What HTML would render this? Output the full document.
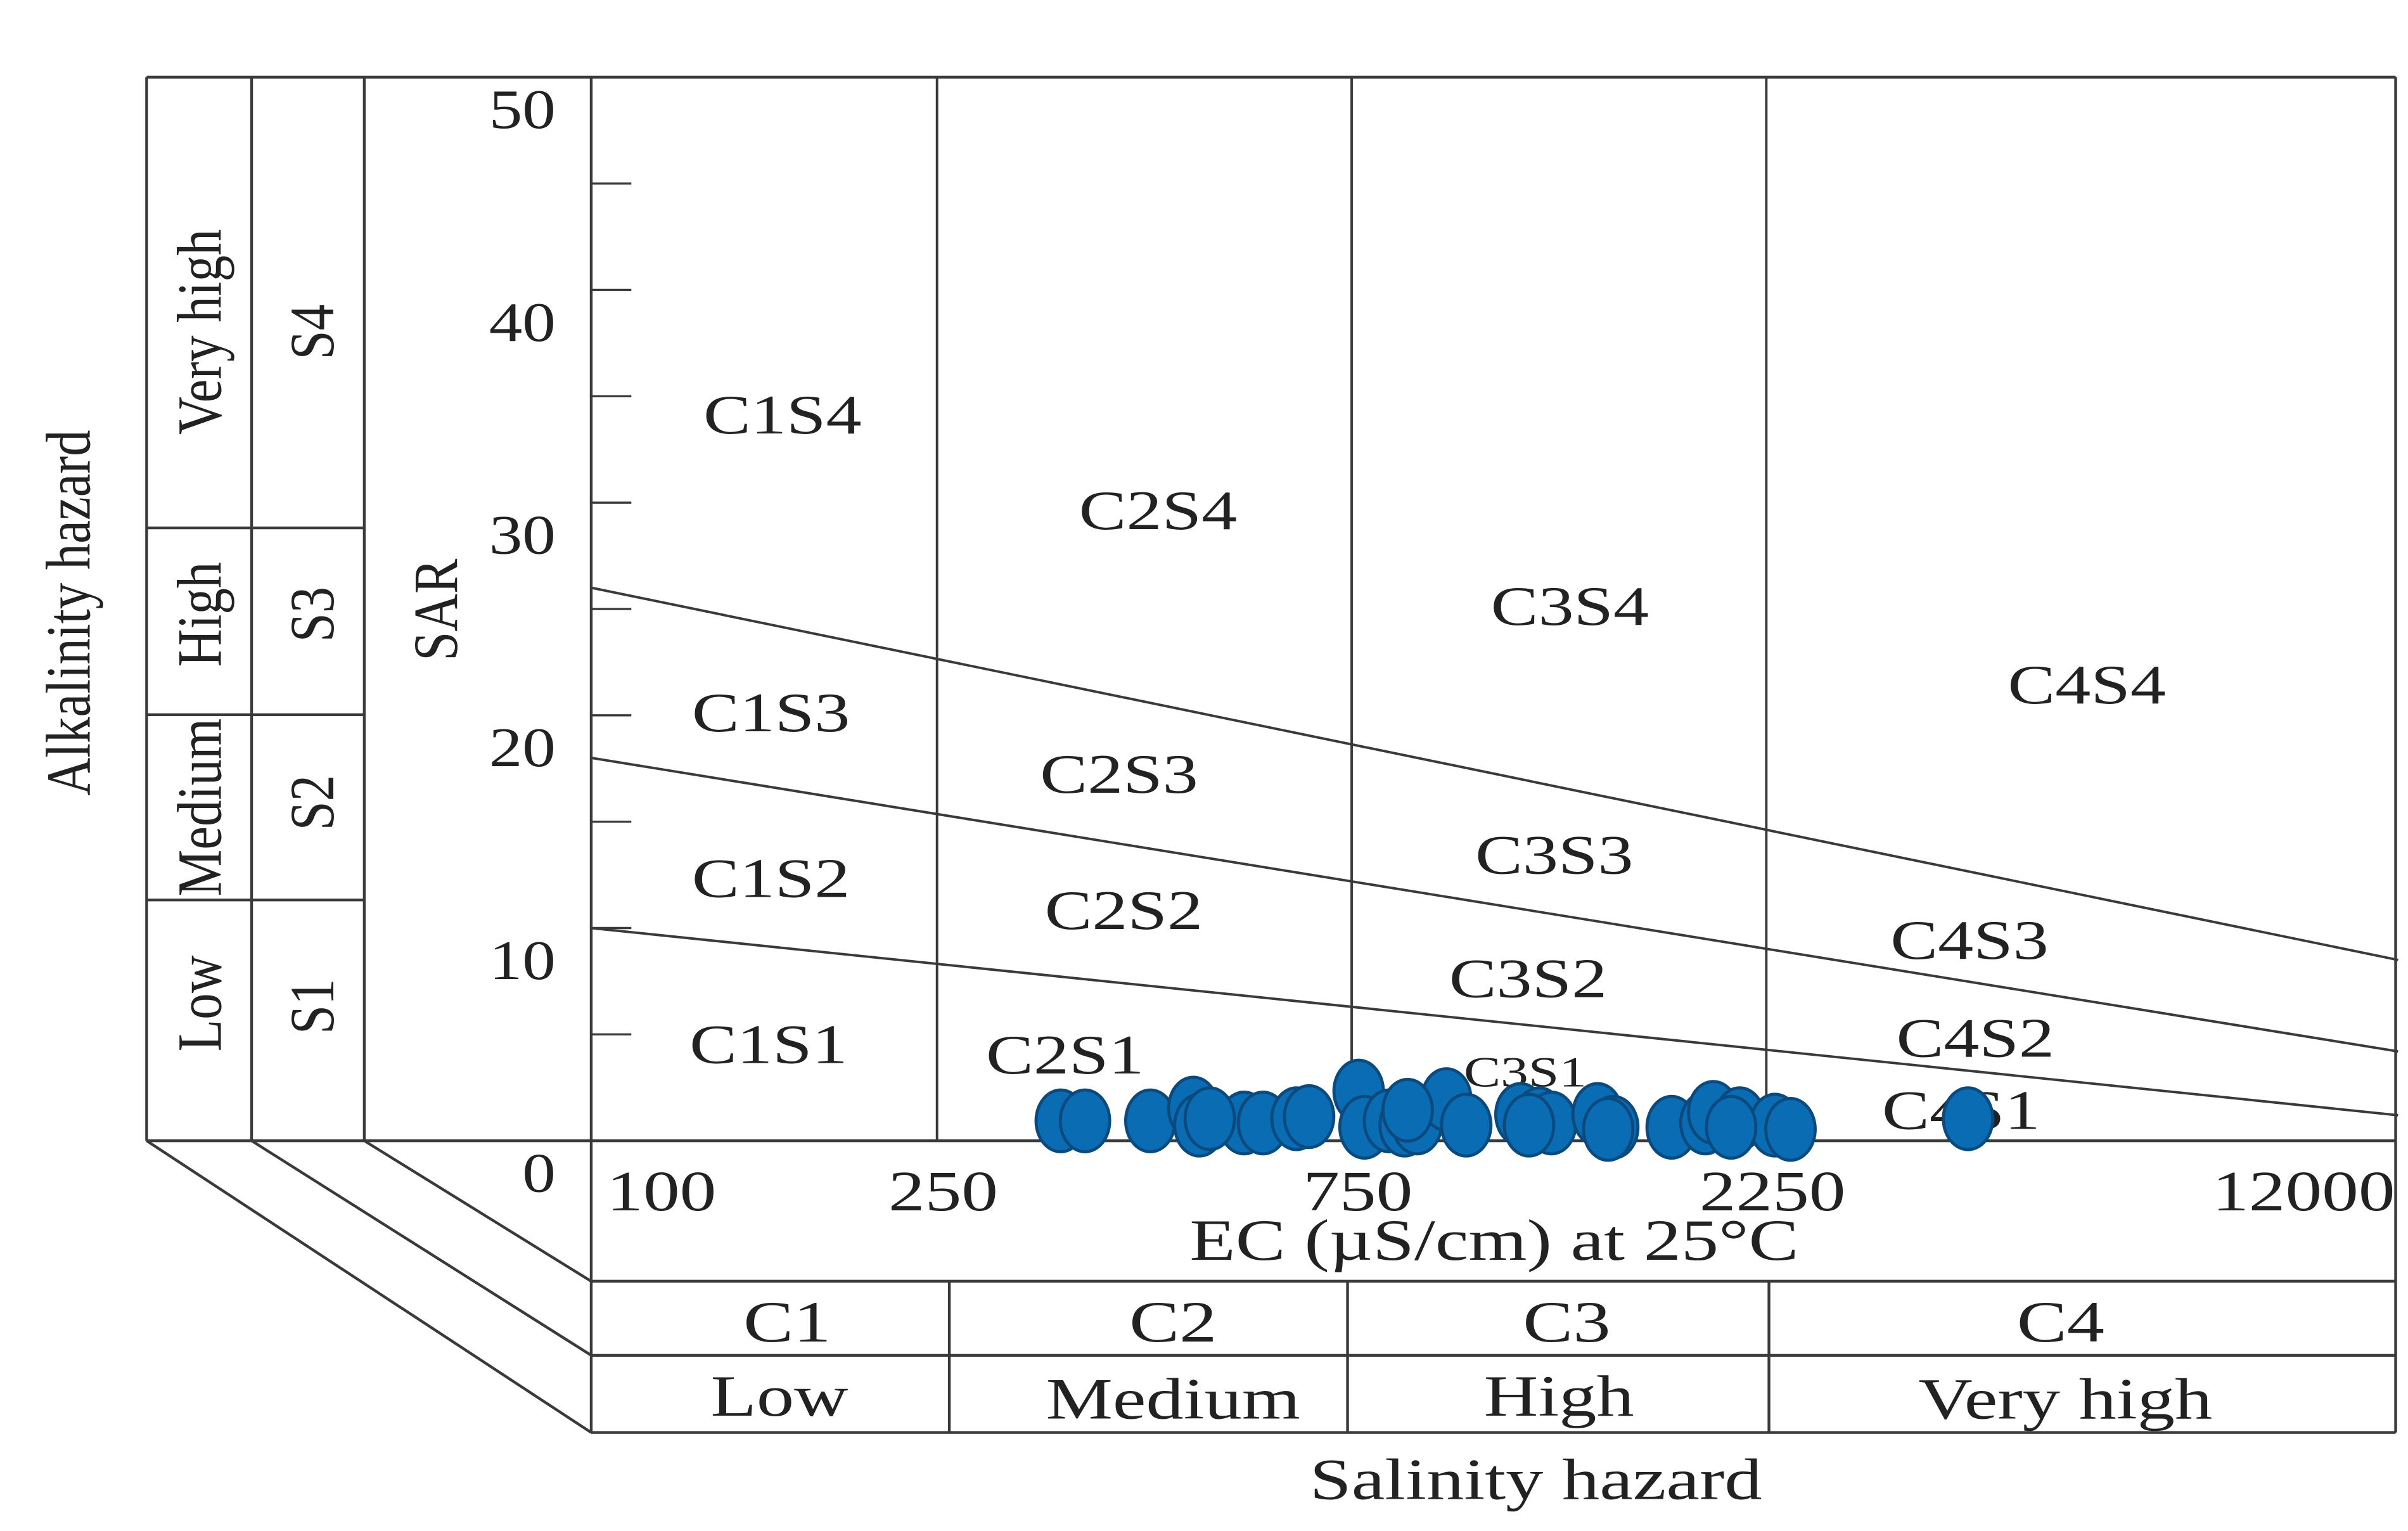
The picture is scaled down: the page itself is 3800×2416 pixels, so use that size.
<!DOCTYPE html>
<html><head><meta charset="utf-8"><style>
html,body{margin:0;padding:0;background:#fff;}
svg{display:block;}
text{font-family:"Liberation Serif",serif;fill:#222;}
</style></head><body>
<svg id="chart" width="3800" height="2416" viewBox="0 0 1560 991.8" preserveAspectRatio="none" xmlns="http://www.w3.org/2000/svg">
<g id="frame" stroke="#3a3a3a" stroke-width="1.8" fill="none">
  <line x1="95" y1="50" x2="1552" y2="50"/>
  <line x1="95" y1="50" x2="95" y2="739"/>
  <line x1="163" y1="50" x2="163" y2="739"/>
  <line x1="236" y1="50" x2="236" y2="739"/>
  <line x1="383" y1="50" x2="383" y2="928"/>
  <line x1="1552" y1="50" x2="1552" y2="928"/>
  <line x1="95" y1="739" x2="1552" y2="739"/>
  <line x1="95" y1="342" x2="236" y2="342"/>
  <line x1="95" y1="463" x2="236" y2="463"/>
  <line x1="95" y1="583" x2="236" y2="583"/>
  <line x1="95" y1="739" x2="383" y2="928"/>
  <line x1="163" y1="739" x2="383" y2="878"/>
  <line x1="236" y1="739" x2="383" y2="830"/>
  <line x1="383" y1="830" x2="1552" y2="830"/>
  <line x1="383" y1="878" x2="1552" y2="878"/>
  <line x1="383" y1="928" x2="1552" y2="928"/>
  <line x1="615" y1="830" x2="615" y2="928"/>
  <line x1="873" y1="830" x2="873" y2="928"/>
  <line x1="1146" y1="830" x2="1146" y2="928"/>
</g>
<g id="grid" stroke="#3a3a3a" stroke-width="1.6" fill="none"></g>
<g id="ticks"></g>
<g id="zones" font-size="36" text-anchor="middle"></g>
<g id="points"></g>
<g font-size="34" text-anchor="middle">
  <text transform="translate(58,397) rotate(-90) scale(1,1.2)">Alkalinity hazard</text>
  <text transform="translate(143,215) rotate(-90) scale(1,1.2)">Very high</text>
  <text transform="translate(143,398) rotate(-90) scale(1,1.2)">High</text>
  <text transform="translate(143,523) rotate(-90) scale(1,1.2)">Medium</text>
  <text transform="translate(143,650) rotate(-90) scale(1,1.2)">Low</text>
  <text transform="translate(216,215) rotate(-90) scale(1,1.2)">S4</text>
  <text transform="translate(216,398) rotate(-90) scale(1,1.2)">S3</text>
  <text transform="translate(216,520) rotate(-90) scale(1,1.2)">S2</text>
  <text transform="translate(216,652) rotate(-90) scale(1,1.2)">S1</text>
  <text transform="translate(296,395) rotate(-90) scale(1,1.2)">SAR</text>
</g>
<g font-size="38" text-anchor="middle">
  <text transform="translate(968,816) scale(1.28,1)">EC (µS/cm) at 25°C</text>
  <text transform="translate(510,869) scale(1.28,1)">C1</text>
  <text transform="translate(760,869) scale(1.28,1)">C2</text>
  <text transform="translate(1015,869) scale(1.28,1)">C3</text>
  <text transform="translate(1335,869) scale(1.28,1)">C4</text>
  <text transform="translate(505,917) scale(1.28,1)">Low</text>
  <text transform="translate(760,919) scale(1.28,1)">Medium</text>
  <text transform="translate(1010,917) scale(1.28,1)">High</text>
  <text transform="translate(1338,919) scale(1.28,1)">Very high</text>
  <text transform="translate(995,971) scale(1.28,1)">Salinity hazard</text>
</g>
</svg>
<script>
const xTicks = [100, 250, 750, 2250, 12000];
const yTicks = [0, 10, 20, 30, 40, 50];
const yMinor = [5, 15, 25, 35, 45];
const boundaryLeft = [10, 18, 26];
const boundaryRight = [1.2, 4.2, 8.5];
const zoneNames = ["C1S4","C2S4","C3S4","C4S4","C1S3","C2S3","C3S3","C4S3","C1S2","C2S2","C3S2","C4S2","C1S1","C2S1","C3S1","C4S1"];
const zoneEC = [166,449,1337,5260,161,405,1283,3855,161,410,1197,3915,160,351,1188,3770];
const zoneSAR = [34.2,29.7,25.2,21.5,20.2,17.3,13.5,9.5,12.4,10.9,7.7,4.9,4.6,4.1,3.5,1.5];
const sampleEC = [347,370,440,493,501,564,593,648,670,764,776,828,863,892,964,1016,1173,1233,1273,1439,1500,1751,1915,1955,2097,2302,2399,3840,515,870,1200,1480,2050];
const sampleSAR = [0.5,0.5,0.5,1.1,0.3,0.4,0.4,0.6,0.7,1.9,0.2,0.5,0.3,0.4,1.5,0.3,0.8,0.6,0.4,0.8,0.2,0.2,0.4,0.9,0.6,0.3,0.1,0.6,0.6,1.0,0.3,0.1,0.2];
const NS = "http://www.w3.org/2000/svg";
function xs(ec){return 383 + 563*(Math.log10(ec)-2);}
function ys(s){return 739 - 13.78*s;}
function mk(tag, attrs, parent){const e=document.createElementNS(NS,tag);for(const k in attrs)e.setAttribute(k,attrs[k]);parent.appendChild(e);return e;}
const grid=document.getElementById('grid');
[250,750,2250].forEach(v=>{
  const l=mk('line',{x1:xs(v),y1:50,x2:xs(v),y2:739},grid);
  
  
});
boundaryLeft.forEach((v,i)=>{
  const l=mk('line',{x1:xs(100),y1:ys(v),x2:xs(12000),y2:ys(boundaryRight[i])},grid);
  
  
});
const ticks=document.getElementById('ticks');
yTicks.concat(yMinor).forEach(v=>{
  const l=mk('line',{x1:383,y1:ys(v),x2:409,y2:ys(v),stroke:'#3a3a3a','stroke-width':1.4},ticks);
  
  
});
yTicks.forEach(v=>{
  const t=mk('text',{transform:'translate(360,'+(ys(v)+33)+') scale(1.2,1)','text-anchor':'end','font-size':36},ticks);
  t.textContent=v;
  
  
});
xTicks.forEach((v,i)=>{
  let x=xs(v)+4; let anchor='middle';
  if(i===0){x=xs(v)+10;anchor='start';}
  if(i===xTicks.length-1){x=xs(v)-2;anchor='end';}
  const t=mk('text',{transform:'translate('+x+',784) scale(1.28,1)','text-anchor':anchor,'font-size':37},ticks);
  t.textContent=v;
  
  
});
const zones=document.getElementById('zones');
zoneNames.forEach((n,i)=>{
  const small = n==='C3S1';
  const t=mk('text',{transform:'translate('+xs(zoneEC[i])+','+(ys(zoneSAR[i])+13)+') scale(1.28,1)'},zones);
  if(small) t.setAttribute('font-size','28');
  t.textContent=n;
  
  
});
const pts=document.getElementById('points');
sampleEC.forEach((v,i)=>{
  const c=mk('ellipse',{cx:xs(v),cy:ys(sampleSAR[i])-6,rx:16,ry:20,fill:'#0a6db3',stroke:'#0b4a7e','stroke-width':2},pts);
  
  
});
</script>
</body></html>
